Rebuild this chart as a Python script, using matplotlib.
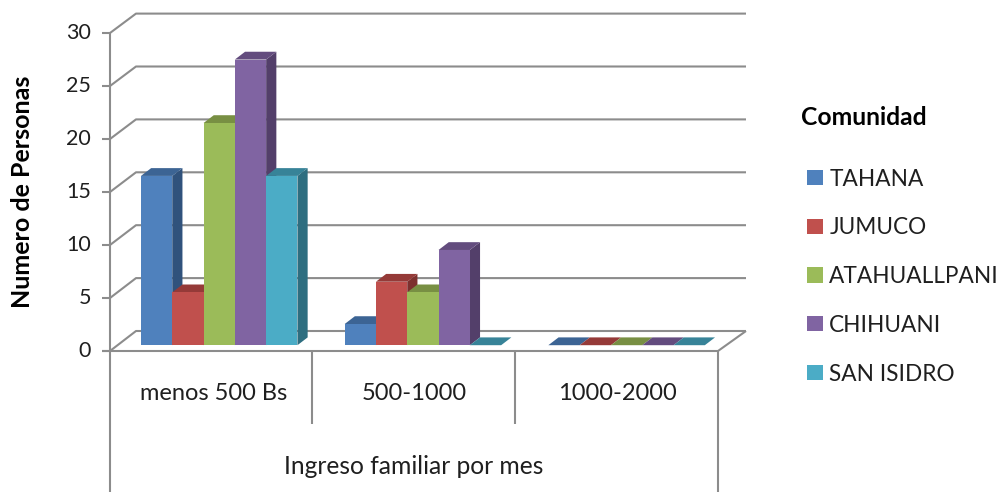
import matplotlib
matplotlib.use("Agg")
import matplotlib.pyplot as plt
from matplotlib.patches import Patch

# Survey counts per income bracket
categories = ["menos 500 Bs", "500-1000", "1000-2000"]
communities = ["TAHANA", "JUMUCO", "ATAHUALLPANI", "CHIHUANI", "SAN ISIDRO"]
tahana = [16, 2, 0]
jumuco = [5, 6, 0]
atahuallpani = [21, 5, 0]
chihuani = [27, 9, 0]
san_isidro = [16, 0, 0]
series = [tahana, jumuco, atahuallpani, chihuani, san_isidro]
y_ticks = [0, 5, 10, 15, 20, 25, 30]

front_colors = ["#4F81BD", "#C0504D", "#9BBB59", "#8064A2", "#4BACC6"]
top_colors = ["#3C6494", "#953A38", "#788F43", "#634C7E", "#378398"]
side_colors = ["#30527C", "#7D302E", "#64773A", "#533F6A", "#2E6E80"]
frame_color = "#8C8C8C"
text_color = "#1F1F1F"

W, H = 1002, 492
plt.rcParams["font.family"] = ["Lato", "DejaVu Sans"]
fig = plt.figure(figsize=(W / 100, H / 100), dpi=100, facecolor="white")

# Pixel-space layer for the box frame and the text
frame = fig.add_axes([0, 0, 1, 1], zorder=1)
frame.set_xlim(0, W)
frame.set_ylim(H, 0)
frame.axis("off")

UNIT_PX = 10.58          # pixels per person
FRONT_ZERO, BACK_ZERO = 351.0, 331.0
LEFT_F, LEFT_B, RIGHT_F, RIGHT_B = 110.0, 136.0, 718.0, 746.0
lw = 1.5


def line(xs, ys):
    frame.plot(xs, ys, color=frame_color, lw=lw, solid_capstyle="butt", zorder=1)


for v in y_ticks:
    back_y = BACK_ZERO - v * UNIT_PX
    front_y = FRONT_ZERO - v * 10.6
    line([LEFT_F, LEFT_B, RIGHT_B], [front_y, back_y, back_y])
    line([102, LEFT_F], [front_y, front_y])
    frame.text(91, front_y, str(v), ha="right", va="center", fontsize=15.5, color=text_color)

line([LEFT_F, LEFT_F], [FRONT_ZERO - 30 * 10.6, H])
line([102, RIGHT_F, RIGHT_B], [FRONT_ZERO, FRONT_ZERO, BACK_ZERO])
line([RIGHT_F, RIGHT_F], [FRONT_ZERO, H])
for x in (312, 515.5):
    line([x, x], [FRONT_ZERO, 424])

for name, x in zip(categories, (213.5, 414.5, 617)):
    frame.text(x, 393, name, ha="center", va="center", fontsize=17, color=text_color)
frame.text(413.5, 467, "Ingreso familiar por mes", ha="center", va="center",
           fontsize=17.7, color=text_color)
frame.text(23, 191.5, "Numero de Personas", rotation=90, ha="center", va="center",
           fontsize=18, fontweight="bold", color="black")

# Data layer: one x unit is one bar width, y is in persons
BAR_PX, GROUP_PX = 31.3, 203.7
CENTER_X, BASE_Y = 219.2, 345.2
ax = fig.add_axes([0, 0, 1, 1], zorder=2)
ax.patch.set_alpha(0)
ax.axis("off")
ax.set_xlim(-CENTER_X / BAR_PX, (W - CENTER_X) / BAR_PX)
ax.set_ylim((BASE_Y - H) / UNIT_PX, BASE_Y / UNIT_PX)

group_step = GROUP_PX / BAR_PX
depth_x = 10.2 / BAR_PX
depth_y = 7.8 / UNIT_PX

for s, values in enumerate(series):
    offset = s - (len(series) - 1) / 2
    z = 10 + s
    for g, value in enumerate(values):
        x0 = g * group_step + offset - 0.5
        x1 = x0 + 1
        if value > 0:
            ax.fill([x1, x1 + depth_x, x1 + depth_x, x1],
                    [0, depth_y, value + depth_y, value],
                    color=side_colors[s], lw=0, zorder=z)
        ax.fill([x0, x1, x1 + depth_x, x0 + depth_x],
                [value, value, value + depth_y, value + depth_y],
                color=top_colors[s], lw=0, zorder=z)
    ax.bar([g * group_step + offset for g in range(len(values))], values, width=1,
           color=front_colors[s], lw=0, zorder=z + 0.5)

# Legend
handles = [Patch(facecolor=c, edgecolor="none", label=n) for c, n in zip(front_colors, communities)]
fs = 16.3
em = fs * 100 / 72
legend = frame.legend(handles=handles, title="Comunidad", loc="upper left",
                      bbox_to_anchor=(806.5 / W, 1 - 106 / H), bbox_transform=fig.transFigure,
                      frameon=False, fontsize=fs, labelcolor=text_color,
                      alignment="left", handlelength=16 / em,
                      handleheight=15 / em, handletextpad=0.3,
                      labelspacing=1.225, borderpad=0.0, borderaxespad=0)
title = legend.get_title()
title.set_fontsize(17.7)
title.set_fontweight("bold")
title.set_color("black")
title.set_position((-5, 0))
legend._legend_box.sep = 28.5
legend.set_zorder(20)

fig.savefig("out.png", dpi=100)
